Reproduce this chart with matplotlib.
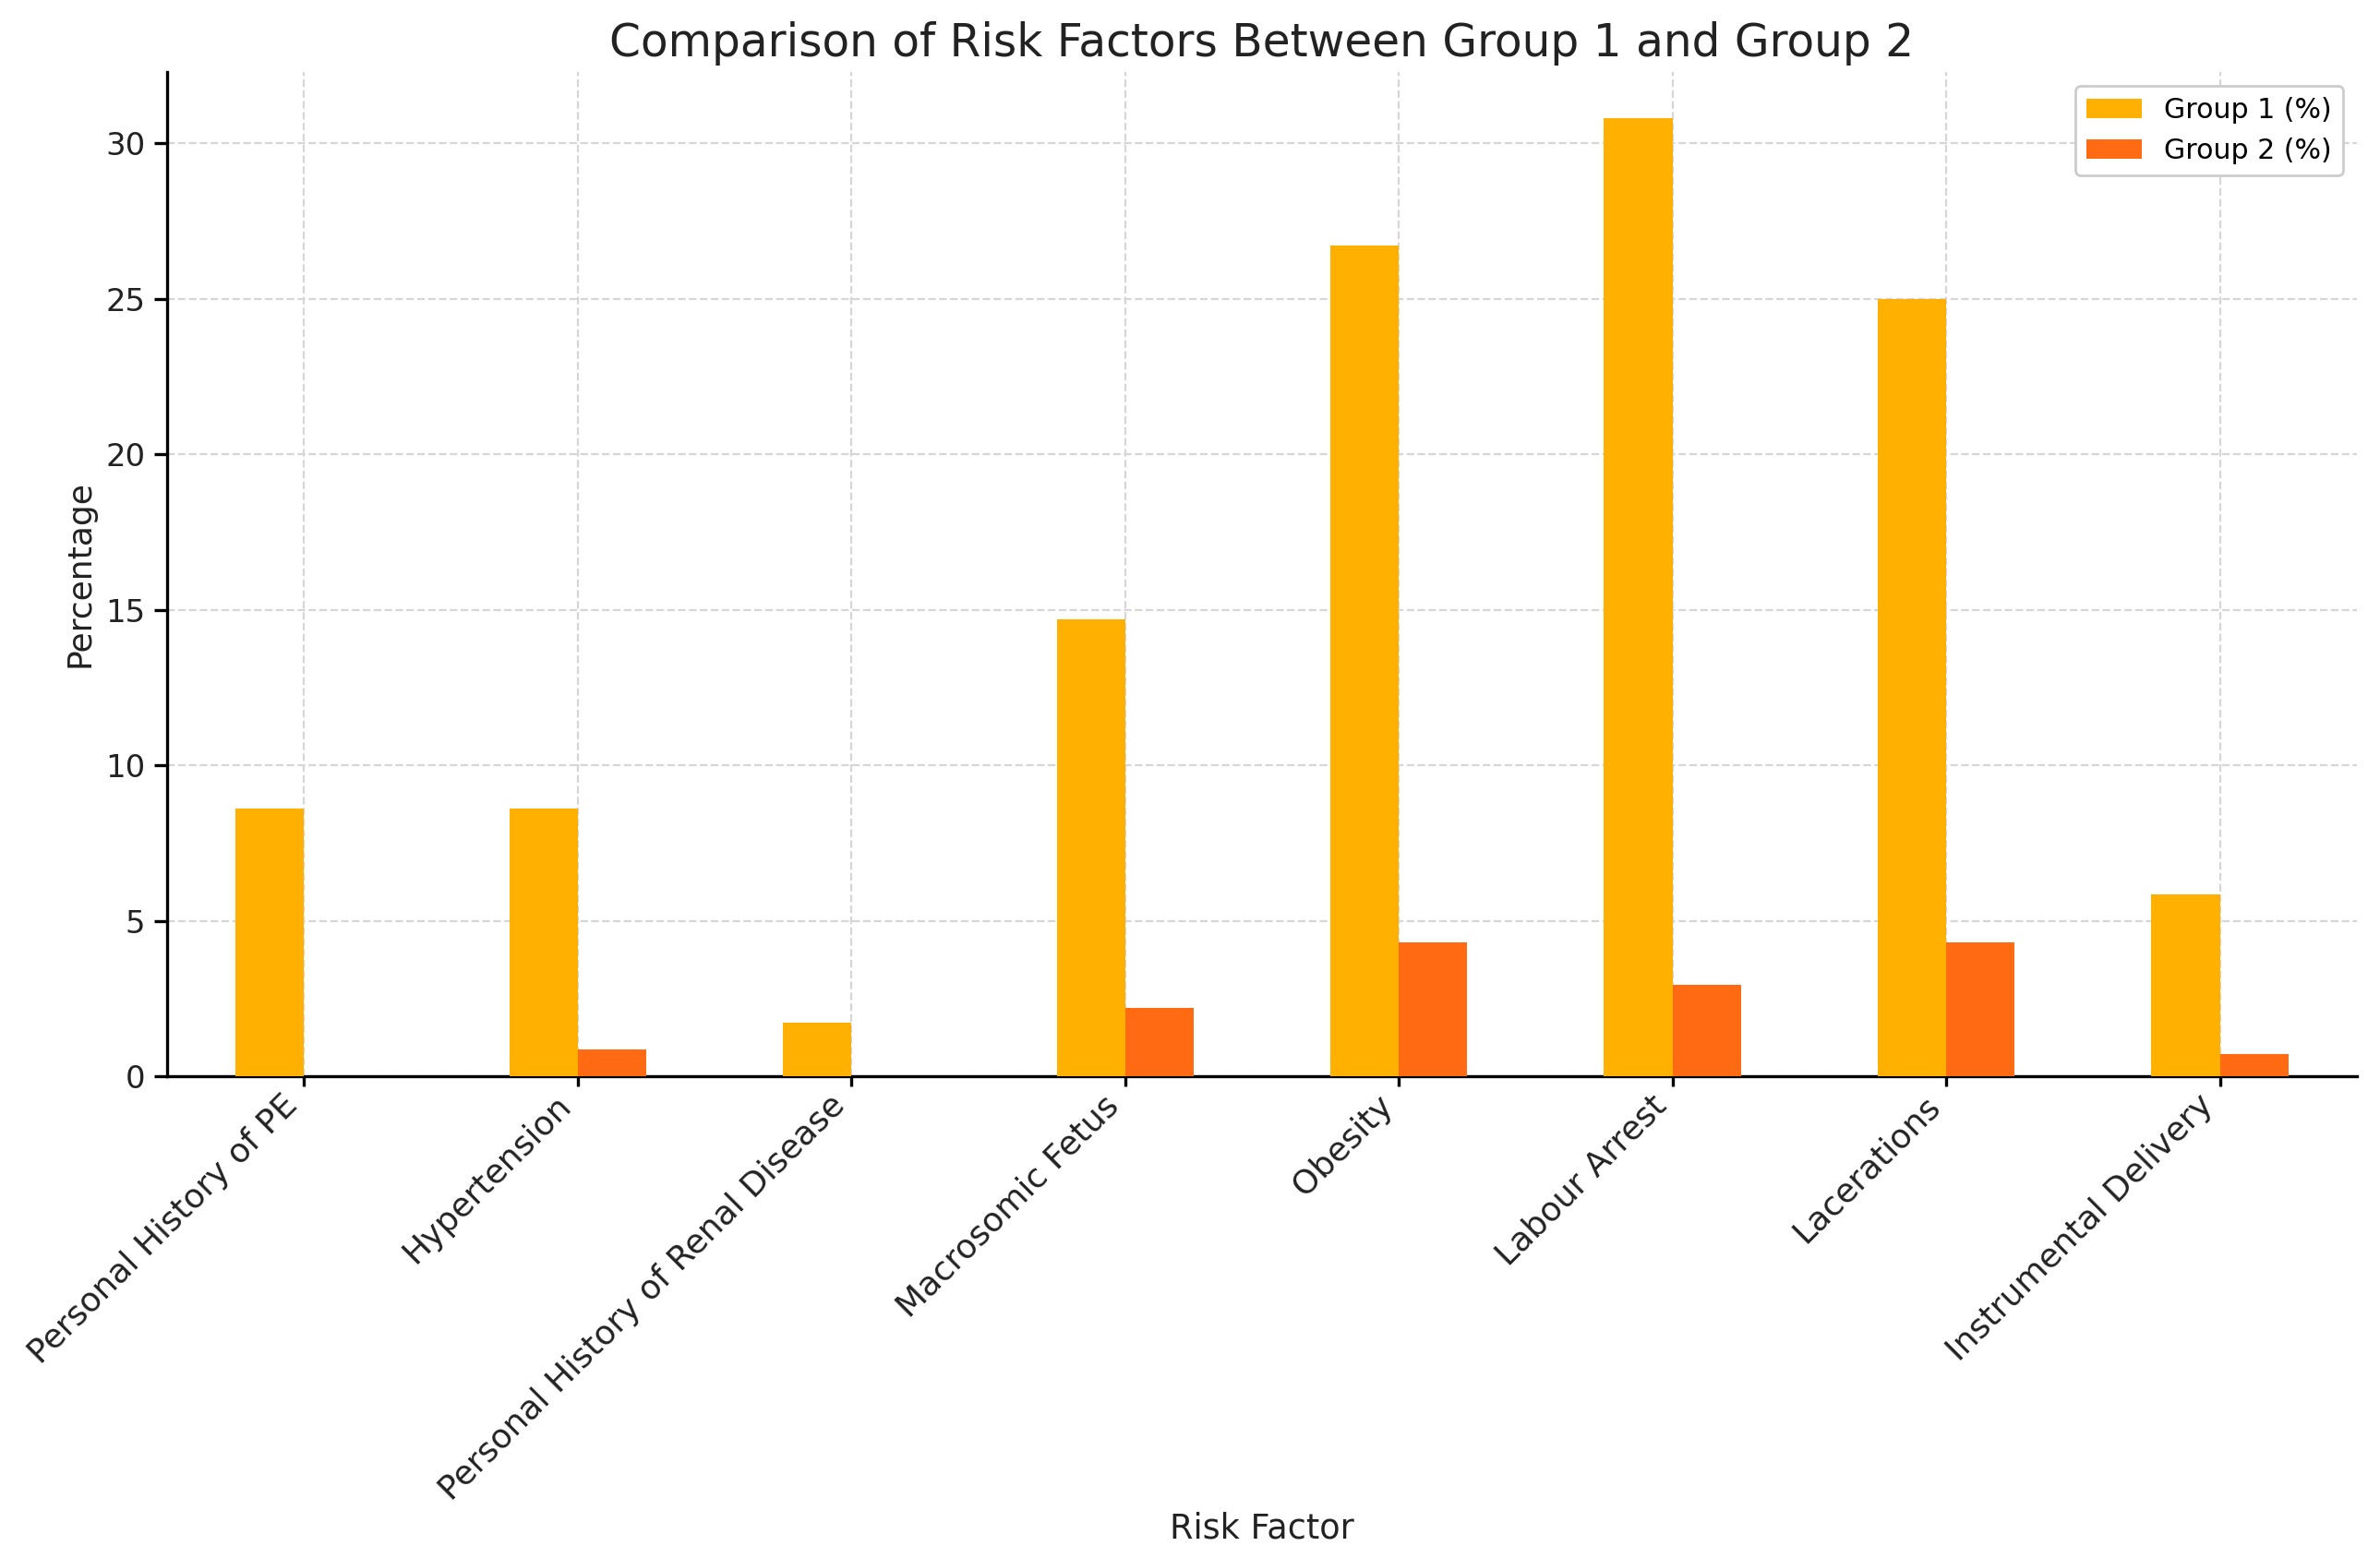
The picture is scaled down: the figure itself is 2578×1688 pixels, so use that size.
import matplotlib
matplotlib.use("Agg")
import matplotlib.pyplot as plt
import numpy as np

# values
risk_factors = ["Personal History of PE", "Hypertension", "Personal History of Renal Disease",
                "Macrosomic Fetus", "Obesity", "Labour Arrest", "Lacerations", "Instrumental Delivery"]
group1_pct = [8.62, 8.62, 1.72, 14.7, 26.72, 30.8, 25.0, 5.86]
group2_pct = [0.0, 0.86, 0.0, 2.2, 4.3, 2.95, 4.3, 0.72]

color_g1 = "#FFB000"
color_g2 = "#FF6A13"

fig = plt.figure(figsize=(12.89, 8.44), dpi=200)
ax = fig.add_axes([0.0702, 0.309, 0.920, 0.645])

x = np.arange(len(risk_factors))
width = 0.25
ax.bar(x - width / 2, group1_pct, width, label="Group 1 (%)", color=color_g1, zorder=3)
ax.bar(x + width / 2, group2_pct, width, label="Group 2 (%)", color=color_g2, zorder=3)

ax.set_xlim(-0.5, len(risk_factors) - 0.5)
ax.set_ylim(0, 32.3)
ax.set_xticks(x)
ax.set_xticklabels(risk_factors, rotation=45, ha="right", fontsize=13, color="#222222")
ax.tick_params(axis="y", labelsize=12.2, labelcolor="#222222", width=1.2, length=5)
ax.tick_params(axis="x", width=1.2, length=4, pad=1)

ax.set_title("Comparison of Risk Factors Between Group 1 and Group 2", fontsize=17.5, color="#222222", pad=6)
ax.set_xlabel("Risk Factor", fontsize=13.2, color="#222222", labelpad=2)
ax.set_ylabel("Percentage", fontsize=13, color="#222222")

ax.grid(True, linestyle="--", color="#d6d6d6", linewidth=0.8, zorder=0)
for side in ["top", "right"]:
    ax.spines[side].set_visible(False)
for side in ["left", "bottom"]:
    ax.spines[side].set_linewidth(1.2)

ax.legend(loc="upper right", fontsize=10.8, framealpha=1, edgecolor="#cccccc")

fig.savefig("out.png", dpi=200)
